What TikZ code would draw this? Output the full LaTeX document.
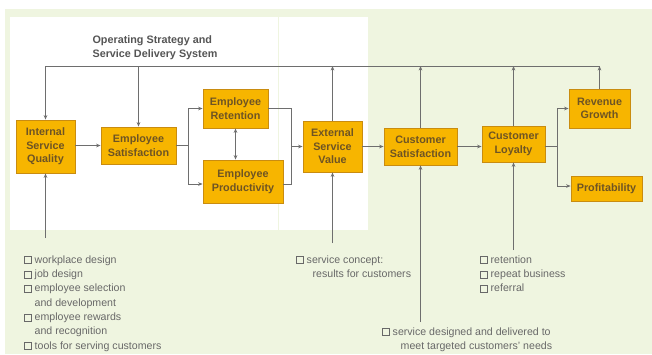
\documentclass[tikz,border=0pt]{standalone}
\usepackage{fontspec}
\setmainfont{Liberation Sans}
\usetikzlibrary{arrows.meta}
\definecolor{bggreen}{HTML}{EFF5E0}
\definecolor{boxfill}{HTML}{F7B500}
\definecolor{boxline}{HTML}{C98C10}
\definecolor{boxtext}{HTML}{6E5424}
\definecolor{linecol}{HTML}{6E6E6E}
\definecolor{txtcol}{HTML}{686868}
\definecolor{titlecol}{HTML}{555555}
\newcommand{\chkbox}{{\setlength{\fboxsep}{0pt}\setlength{\fboxrule}{0.5pt}\fbox{\rule{0pt}{6.5pt}\hspace{6.5pt}}}\hspace{3pt}}
\newcommand{\chkgap}{\hphantom{\chkbox}}
\tikzset{
  fbox/.style={draw=boxline, line width=0.8pt, fill=boxfill, text=boxtext,
    font=\fontsize{10.8}{13.6}\selectfont\bfseries, align=center, inner sep=0pt},
  ln/.style={draw=linecol, line width=0.7pt},
  arr/.style={ln, -{Stealth[length=4.5pt,width=3.6pt]}},
  arrboth/.style={ln, {Stealth[length=4.5pt,width=3.6pt]}-{Stealth[length=4.5pt,width=3.6pt]}},
  listtext/.style={text=txtcol, font=\fontsize{10.6}{14.3}\selectfont, align=left, inner sep=0pt, anchor=north west}
}
\begin{document}
\begin{tikzpicture}[x=1pt,y=-1pt]
\useasboundingbox (0,0) rectangle (652,354);
\fill[white] (0,0) rectangle (652,354);
\fill[bggreen] (5,9) rectangle (652,354);
\fill[white] (10,17) rectangle (368,230);
\draw[bggreen, line width=1.5pt] (278.5,17) -- (278.5,230);

\node[font=\fontsize{10.8}{13.5}\selectfont\bfseries, text=titlecol, align=left, inner sep=0pt] (title) at (155,47.5) {Operating Strategy and\\Service Delivery System};

\node[fbox, minimum width=59pt, minimum height=53pt] (isq) at (45.5,146.5) {Internal\\Service\\Quality};
\node[fbox, minimum width=75pt, minimum height=37pt] (es) at (138.5,145.5) {Employee\\Satisfaction};
\node[fbox, minimum width=65pt, minimum height=39pt] (er) at (235.5,108.5) {Employee\\Retention};
\node[fbox, minimum width=80pt, minimum height=43pt] (ep) at (243,181.5) {Employee\\Productivity};
\node[fbox, minimum width=59pt, minimum height=51pt] (esv) at (332.5,146.5) {External\\Service\\Value};
\node[fbox, minimum width=73pt, minimum height=37pt] (cs) at (420.5,146.5) {Customer\\Satisfaction};
\node[fbox, minimum width=63pt, minimum height=36pt] (cl) at (513.5,144) {Customer\\Loyalty};
\node[fbox, minimum width=61pt, minimum height=39pt] (rg) at (599.5,108.5) {Revenue\\Growth};
\node[fbox, minimum width=71pt, minimum height=25pt] (pf) at (606.5,188.5) {Profitability};

% top feedback line
\coordinate (tl) at (45.5,66);
\coordinate (tr) at (599.5,66);
\draw[ln] (tl) -- (tr);
\draw[arr] (tl) -- (isq.north);
\draw[arr] (es.north |- tl) -- (es.north);
\draw[arr] (esv.north) -- (esv.north |- tl);
\draw[arr] (cs.north) -- (cs.north |- tl);
\draw[arr] (cl.north) -- (cl.north |- tl);
\draw[arr] (rg.north) -- (tr);

% main flow
\draw[arr] (isq.east |- es.west) -- (es.west);
\coordinate (s1) at (188,145.5);
\draw[ln] (es.east) -- (s1);
\draw[arr] (s1) |- (er.west);
\draw[arr] (s1) |- ([yshift=-2.5pt]ep.west);
\draw[arrboth] (er.south) -- (er.south |- ep.north);
\coordinate (m1) at (291,146.5);
\draw[ln] (er.east) -| (m1);
\draw[ln] ([yshift=-2.5pt]ep.east) -| (m1);
\draw[arr] (m1) -- (esv.west);
\draw[arr] (esv.east) -- (cs.west);
\draw[arr] (cs.east) -- (cs.east -| cl.west);
\coordinate (s2) at (557,146.5);
\draw[ln] (cl.east |- s2) -- (s2);
\draw[arr] (s2) |- (rg.west);
\draw[arr] (s2) |- ([yshift=2.5pt]pf.west);

% lists
\node[listtext] (l1) at (24,255.5) {\chkbox workplace design\\\chkbox job design\\\chkbox employee selection\\\chkgap and development\\\chkbox employee rewards\\\chkgap and recognition\\\chkbox tools for serving customers};
\node[listtext] (l2) at (296,255.5) {\chkbox service concept:\\\chkgap\hspace{6pt}results for customers};
\node[listtext] (l3) at (480,255.5) {\chkbox retention\\\chkbox repeat business\\\chkbox referral};
\node[listtext] (l4) at (382,327.5) {\chkbox service designed and delivered to\\\chkgap\hspace{8pt}meet targeted customers' needs};

\coordinate (b1) at (45.5,238);
\coordinate (b2) at (332.5,243);
\coordinate (b3) at (420.5,322);
\coordinate (b4) at (513.5,250);
\draw[arr] (b1) -- (isq.south);
\draw[arr] (b2) -- (esv.south);
\draw[arr] (b3) -- (cs.south);
\draw[arr] (b4) -- (cl.south);
\end{tikzpicture}
\end{document}
